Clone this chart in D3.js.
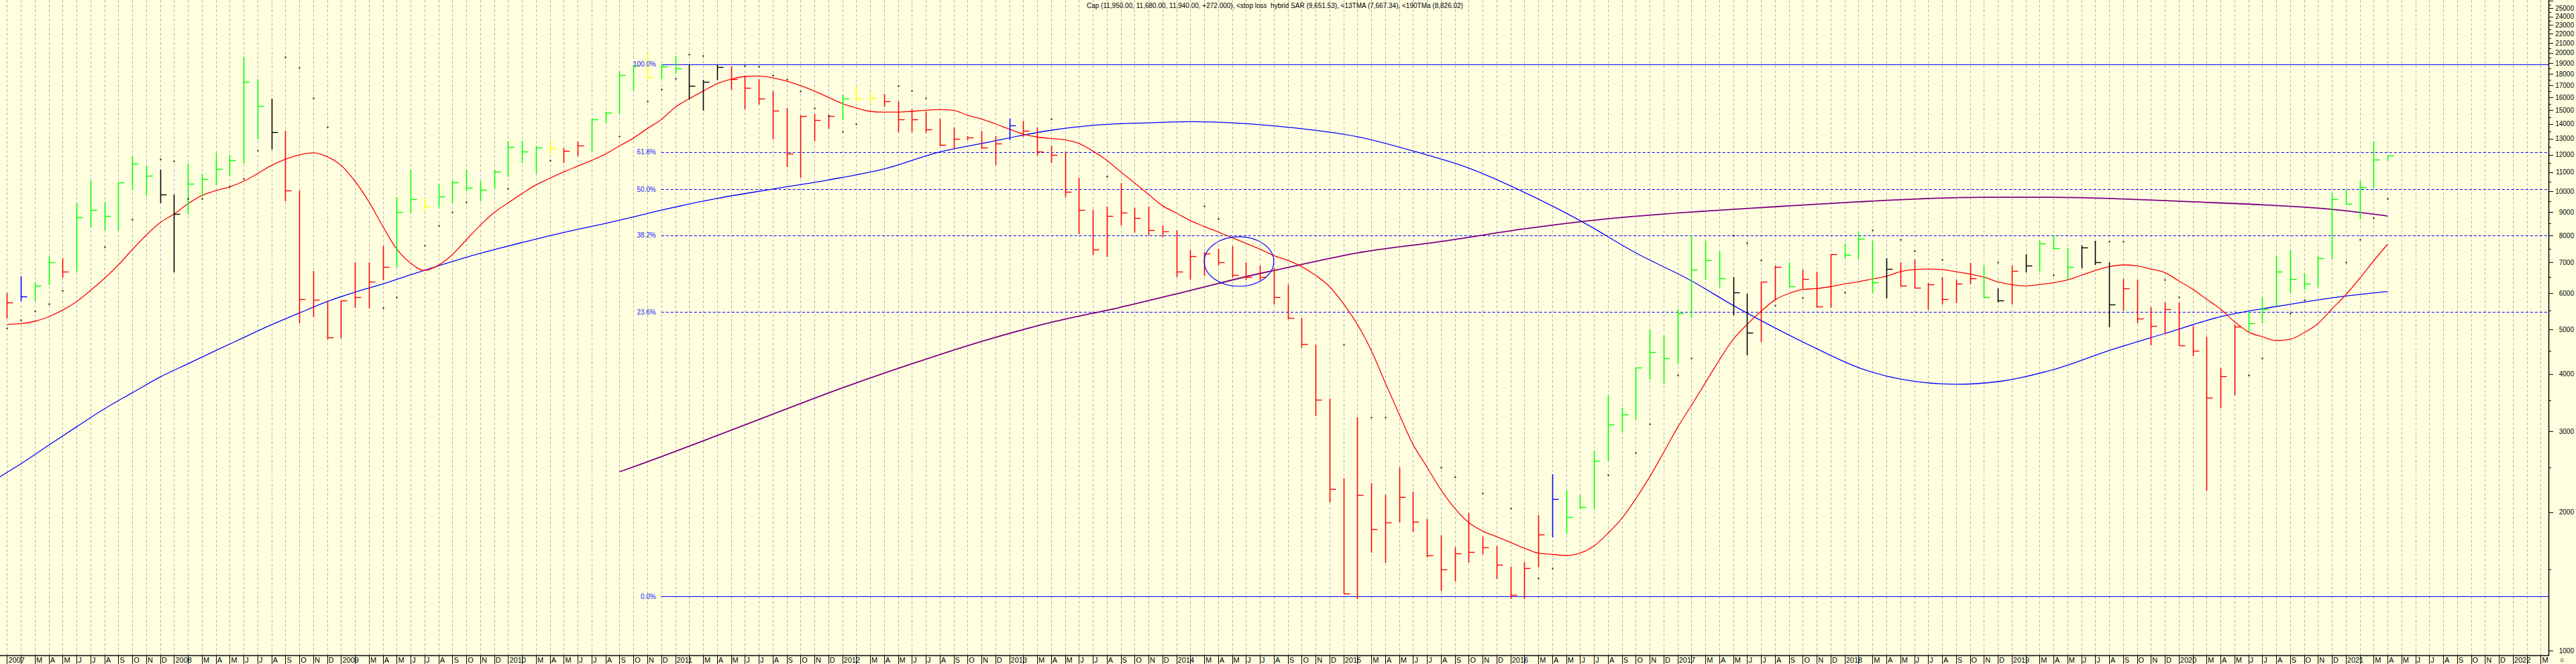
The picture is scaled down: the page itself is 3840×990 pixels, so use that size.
<!DOCTYPE html>
<html><head><meta charset="utf-8">
<script src="https://cdn.jsdelivr.net/npm/d3@7"></script>
<style>
html,body{margin:0;padding:0;background:#ffffe0;}
svg{display:block;font-family:"Liberation Sans",Arial,sans-serif;}
</style>
</head><body>
<svg id="chart" width="3840" height="990"></svg>
<script>
// ---------- DATA (monthly bars, Jan 2007 = index 0) ----------
const startYear = 2007;
const highs = [6000,6530,6340,7210,7140,9450,10540,9480,10460,11900,11370,11120,9850,11470,10920,12110,12000,19590,17520,15920,
13540,10030,6710,5780,5780,7010,7010,7580,9700,11130,9660,10360,10550,11130,10517,11130,12870,12870,12580,12820,
12420,12820,14390,14890,18260,18840,19890,18880,19660,18880,17460,18880,18690,17820,17540,16500,15160,14600,14700,14550,
16230,16880,16440,16260,15700,15080,14920,14360,13750,13190,13520,13190,14360,14220,13750,12580,12210,10710,9090,9270,
10420,9180,9270,8430,8230,7440,7370,7480,7580,7010,6880,6810,6260,5300,4630,3540,2370,3220,2318,2180,
2500,2220,1930,1780,1680,1990,1770,1690,1520,1560,1970,2420,2230,2180,2720,3600,3380,4130,5010,4853,
5540,8000,7800,7390,6500,5970,6350,6880,7010,6750,6680,7300,7690,8150,7810,7140,7010,7110,6320,6500,
6410,6980,6880,6140,6880,7280,7800,8000,7510,7630,7770,7010,6440,6410,5590,5720,5720,5090,4830,4120,
5130,5460,5890,7210,7440,6620,7210,9940,10070,10510,12820,11950];
const lows = [5300,5790,5780,6270,6500,6710,8380,8220,8220,10110,9810,9450,6680,8910,9780,10340,10850,11510,13010,12380,
9550,5180,5330,4780,4800,5590,5570,6410,6840,8990,9040,9250,9440,10030,9530,10180,10780,11560,10960,12120,
11560,11940,12230,14080,14760,16620,17650,17610,18060,15890,15020,17520,16660,15100,15490,13000,11340,10720,12930,13730,
14350,15640,15570,15350,13490,13480,13450,12580,12350,12940,12420,11450,12940,13190,12000,11560,9750,8080,7280,7230,
8460,8150,8040,7950,6530,6440,6580,6910,6500,6410,6410,5690,5280,4580,3250,2110,1330,1300,1640,1560,
1910,1820,1601,1354,1420,1560,1630,1440,1300,1300,1520,1770,1800,2040,2040,2590,3000,3190,3900,3830,
4210,5310,6440,6200,5380,4410,4710,5800,6200,6140,5590,5590,7180,7140,6030,5860,6220,6160,5540,5690,
5720,6280,5860,5750,5690,6680,6710,7480,6440,6810,6940,5070,5510,5180,4630,4900,4610,4390,2230,3390,
3610,4960,5180,5620,6030,6120,6200,7140,9390,8710,10220,11680];
const closes = [5730,5910,6230,7000,6680,8760,9090,8820,10460,11470,10820,9850,8930,10370,10630,11180,11670,17320,15320,13460,
10020,5820,5800,4800,5780,5880,6360,6840,9010,9620,9250,9750,10440,10180,10070,11020,12490,12210,12440,12420,
12230,12580,14330,14820,17870,18770,17710,18670,18490,16970,17280,18610,17550,16790,15910,14950,12090,14570,14270,14550,
15890,15910,15980,15700,14320,14350,13630,12630,13020,13070,12460,12700,13910,13520,12210,12000,9970,9090,7460,8820,
8990,8740,8230,8180,6680,7230,7320,7010,6560,6500,6500,5880,5300,4640,3520,2250,1330,2180,1840,1900,
2160,1910,1610,1500,1630,1640,1680,1540,1320,1510,1790,2140,1950,2050,2590,3100,3270,4130,4470,4330,
5430,6750,7070,6470,6030,4920,6350,6850,6200,6440,5610,7280,7263,7880,6340,6780,6230,6170,6260,5830,
6290,6460,5880,5780,6710,6880,7700,7510,6840,7550,7010,5660,6140,5280,5090,5540,4610,4500,3550,3960,
5070,5160,5540,6680,6440,6280,7140,9600,9390,10220,11710,11940];
// bar colour codes: G green, R red, K black, Y yellow, B blue
const barColors = "RBGGRGGGGGGKKGGGGGGKRRRRRRRRGGYGGGGGGGGYRRGGGGYGGKKKRRRRRRRRGYYRRRRRRRRRBRRRRRRRRRRRRRRRRRRRRRRRRRRRRRRRRRRRRRRBGGGGGGGGGGGGKKRRGRRRGGGKRRRRRRGKRKGGGKKKRRRRRRRRRGGGGGGGGGGGG";

// 13-month triangular MA, one value per bar
const tma13 = [5130,5150,5210,5330,5510,5750,6080,6460,6910,7460,8020,8540,8920,9390,9790,10030,10220,10510,10920,11380,
11740,12000,12120,11890,11380,10510,9480,8380,7480,6970,6720,6900,7280,7840,8430,8990,9430,9880,10320,10670,
11020,11340,11670,12050,12550,13050,13690,14320,15228,15890,16510,17130,17520,17770,17810,17650,17360,16970,16510,16010,
15520,15180,14920,14860,14860,14920,15000,15050,14990,14630,14360,14010,13650,13320,13120,13020,12940,12700,12230,11670,
11020,10420,9840,9300,8960,8630,8380,8150,7920,7700,7480,7240,7070,6850,6560,6200,5690,5130,4500,3830,
3270,2810,2510,2240,2040,1900,1820,1770,1720,1670,1630,1620,1610,1630,1690,1800,1940,2140,2390,2700,
3060,3420,3830,4290,4760,5130,5480,5800,5990,6110,6140,6200,6280,6350,6440,6530,6680,6750,6770,6750,
6680,6600,6500,6350,6260,6220,6260,6320,6410,6560,6720,6850,6910,6880,6770,6650,6380,6120,5820,5540,
5200,4940,4820,4730,4760,4920,5150,5540,5950,6460,7050,7667];

// long blue moving average, sampled points [bar index, value]
const blueMaIdx = [-0.5,1,3,5,7,9,11,13,15,17,19,21,23,25,27,29,31,33,35,37,39,41,43,45,47,51,55,59,63,67,70,75,78,82,85,88,91.5,97,101,105,109,113,117,121,124,127,130,133,136,140,143,147,151,155,159,163,167,171];
const blueMaVal = [2390,2550,2800,3070,3360,3640,3940,4210,4500,4800,5120,5430,5750,6030,6280,6580,6880,7180,7460,7730,8000,8260,8510,8790,9090,9640,10110,10580,11180,12170,12700,13570,13910,14090,14170,14090,13830,13140,12230,11230,9940,8630,7340,6380,5640,5040,4540,4130,3900,3800,3850,4090,4500,4900,5330,5610,5860,6050];

// 190-month TMA, sampled points
const tma190Idx = [44,45.3,50,55,60,65,70,75,80,85,90,91.5,97,103,109,115,121,127,133,137.3,142,147,152,157,162,167,171];
const tma190Val = [2450,2530,2860,3270,3730,4210,4710,5180,5590,6080,6620,6770,7340,7770,8280,8710,9010,9250,9480,9620,9700,9700,9620,9480,9340,9130,8830];

// stop-loss hybrid SAR dots
const sarIdx = [0,1,2,3,4,7,9,11,12,13,14,16,17,18,20,21,22,23,27,28,30,31,32,33,36,39,44,46,47,48,49,50,53,54,55,56,57,58,59,60,61,64,65,66,
75,79,86,87,96,98,99,103,104,106,108,110,111,115,117,118,120,121,124,125,126,127,129,132,134,136,137,139,143,147,150,151,152,155,156,161,162,164,165,168,169,170,171];
const sarVal = [5040,5250,5480,5690,6080,7560,8680,11760,11634,9640,9640,10240,10660,12280,19590,18570,15960,13810,5570,5880,7630,8430,9010,9480,10120,11670,13190,15710,16660,17580,19860,19700,18770,18670,17910,17550,16510,15180,14640,13490,14000,16940,16560,15960,
14360,10760,9300,8710,4630,3220,3220,2500,2390,2200,2040,1440,1510,2410,2700,3110,3980,4330,8000,7730,7070,5640,5860,6030,8230,7840,7410,7110,7010,6560,7770,7770,7770,6410,5880,3980,4330,5430,5800,7010,7840,8740,9651.53];

// Fibonacci retracement
const fibHigh = 18880, fibLow = 1313, fibStart = 47;
const fibLevels = [1, 0.618, 0.5, 0.382, 0.236, 0];
const fibLabels = ["100.0%","61.8%","50.0%","38.2%","23.6%","0.0%"];

// annotation ellipse (bar index range, value range)
const ellipseIdx = [86, 91];
const ellipseVal = [6210, 7960];

// axis
const yTickValues = d3.range(1000, 26001, 500);
const monthLetters = ["", "", "M","A","M","J","J","A","S","O","N","D"];
const nMonths = 183;
const titleText = "Cap (11,950.00, 11,680.00, 11,940.00, +272.000), <stop loss  hybrid SAR (9,651.53), <13TMA (7,667.34), <190TMa (8,826.02)";

// ---------- CHART ----------
const W = 3840, H = 990;
const plotRight = 3799, plotBottom = 977;
const svg = d3.select("#chart");
const x = d3.scaleLinear().domain([-0.5, 182.56]).range([0, plotRight]);
const y = d3.scaleLog().domain([976.8, 26070]).range([plotBottom, 0]);
const colorMap = {G:"#00ff00", R:"#ff0000", K:"#000000", Y:"#ffff00", B:"#0000ff"};

svg.append("rect").attr("width", W).attr("height", H).attr("fill", "#ffffe0");

const px = v => Math.round(v) + 0.5;

// vertical grid
svg.append("g").selectAll("line").data(d3.range(0, nMonths)).join("line")
  .attr("x1", d => px(x(d))).attr("x2", d => px(x(d)))
  .attr("y1", 0).attr("y2", plotBottom)
  .attr("stroke", "#b4b4b4").attr("stroke-width", 1).attr("stroke-dasharray", "4,3");

const plot = svg.append("g");
plot.append("clipPath").attr("id","clip").append("rect").attr("width", plotRight).attr("height", plotBottom);
const g = plot.append("g").attr("clip-path","url(#clip)");

// fib lines
const fibVal = l => fibLow + l * (fibHigh - fibLow);
g.selectAll(".fib").data(fibLevels).join("line")
  .attr("x1", x(fibStart)).attr("x2", plotRight)
  .attr("y1", d => px(y(fibVal(d)))).attr("y2", d => px(y(fibVal(d))))
  .attr("stroke", "#0000ff").attr("stroke-width", 1)
  .attr("stroke-dasharray", d => (d === 1 || d === 0) ? null : "4,3");
svg.selectAll(".fibl").data(fibLevels).join("text")
  .attr("x", x(fibStart) - 8).attr("y", d => y(fibVal(d)))
  .attr("dy", "0.35em").attr("text-anchor", "end")
  .attr("font-size", 10).attr("fill", "#2020ff")
  .text((d, i) => fibLabels[i]);

// moving averages
const lineGen = d3.line().x(d => x(d[0])).y(d => y(d[1])).curve(d3.curveMonotoneX);
g.append("path").datum(blueMaIdx.map((d, i) => [d, blueMaVal[i]]))
  .attr("d", lineGen).attr("fill", "none").attr("stroke", "#0000ff").attr("stroke-width", 1.3);
g.append("path").datum(tma190Idx.map((d, i) => [d, tma190Val[i]]))
  .attr("d", lineGen).attr("fill", "none").attr("stroke", "#800080").attr("stroke-width", 1.8);
g.append("path").datum(tma13.map((d, i) => [i, d]))
  .attr("d", lineGen).attr("fill", "none").attr("stroke", "#ff0000").attr("stroke-width", 1.3);

// bars
const bars = g.append("g").selectAll("g").data(highs.map((h, i) => ({i, h, l: lows[i], c: closes[i], col: colorMap[barColors[i]]})))
  .join("g");
bars.append("line")
  .attr("x1", d => px(x(d.i))).attr("x2", d => px(x(d.i)))
  .attr("y1", d => Math.round(y(d.h))).attr("y2", d => Math.round(y(d.l)) + 1)
  .attr("stroke", d => d.col).attr("stroke-width", 1.6);
bars.append("line")
  .attr("x1", d => px(x(d.i))).attr("x2", d => px(x(d.i)) + 9)
  .attr("y1", d => px(y(d.c))).attr("y2", d => px(y(d.c)))
  .attr("stroke", d => d.col).attr("stroke-width", 1.4);

// SAR dots
g.append("g").selectAll("rect").data(sarIdx.map((d, i) => [d, sarVal[i]])).join("rect")
  .attr("x", d => Math.round(x(d[0])) - 0.5).attr("y", d => Math.round(y(d[1])) - 0.5)
  .attr("width", 2).attr("height", 2).attr("fill", "#000");

// ellipse annotation
g.append("ellipse")
  .attr("cx", (x(ellipseIdx[0]) + x(ellipseIdx[1])) / 2)
  .attr("cy", (y(ellipseVal[0]) + y(ellipseVal[1])) / 2)
  .attr("rx", (x(ellipseIdx[1]) - x(ellipseIdx[0])) / 2)
  .attr("ry", (y(ellipseVal[0]) - y(ellipseVal[1])) / 2)
  .attr("fill", "none").attr("stroke", "#0000ff").attr("stroke-width", 1.2);

// y axis (right)
svg.append("line").attr("x1", plotRight + 0.5).attr("x2", plotRight + 0.5).attr("y1", 0).attr("y2", plotBottom)
  .attr("stroke", "#000").attr("stroke-width", 1.5);
const yt = svg.append("g").selectAll("g").data(yTickValues.filter(v => y(v) >= 0 && y(v) <= plotBottom)).join("g");
yt.append("line").attr("x1", plotRight).attr("x2", d => plotRight + (d % 1000 === 0 ? 7 : 4))
  .attr("y1", d => px(y(d))).attr("y2", d => px(y(d))).attr("stroke", "#000");
yt.filter(d => d % 1000 === 0 && y(d) > 8).append("text")
  .attr("x", 3837).attr("y", d => y(d)).attr("dy", "0.35em").attr("text-anchor", "end")
  .attr("font-size", 10).attr("fill", "#000").text(d => d);

// x axis (bottom)
svg.append("line").attr("x1", 0).attr("x2", plotRight + 1).attr("y1", plotBottom + 0.5).attr("y2", plotBottom + 0.5)
  .attr("stroke", "#000").attr("stroke-width", 1.5);
const xt = svg.append("g").selectAll("g").data(d3.range(0, nMonths)).join("g");
xt.append("line").attr("x1", d => px(x(d))).attr("x2", d => px(x(d)))
  .attr("y1", plotBottom).attr("y2", H).attr("stroke", "#000");
xt.append("text").attr("x", d => x(d) + 2).attr("y", 988)
  .attr("font-size", 11).attr("fill", "#000")
  .text(d => d % 12 === 0 ? String(startYear + d / 12) : monthLetters[d % 12]);
svg.append("text").attr("x", 3819).attr("y", 987).attr("text-anchor", "middle")
  .attr("font-size", 9).text("☺");

// title
svg.append("text").attr("x", 1620).attr("y", 12).attr("font-size", 10).attr("fill", "#000")
  .style("white-space", "pre").text(titleText);
</script>
</body></html>
